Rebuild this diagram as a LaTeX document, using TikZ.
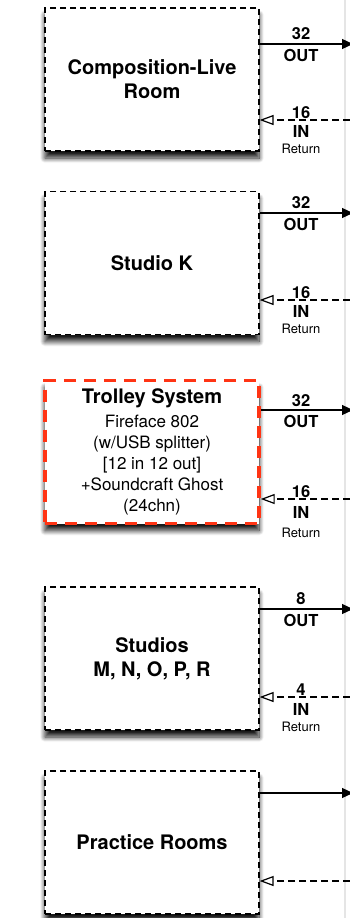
\documentclass[tikz,border=0pt]{standalone}
\usepackage{fontspec}
\setmainfont{TeX Gyre Heros}
\usetikzlibrary{arrows.meta,shadows.blur}
\definecolor{alertred}{RGB}{255,52,20}

\begin{document}
\begin{tikzpicture}[x=1pt,y=-1pt,room/.style={draw,line width=1.2pt,dash pattern=on 6pt off 4pt,fill=white,minimum width=214pt,minimum height=143pt,inner sep=0pt,align=center,font=\fontsize{20}{24}\selectfont\bfseries,blur shadow={shadow xshift=0pt,shadow yshift=-7pt,shadow blur radius=5pt,shadow blur steps=10,shadow opacity=90}},trolley/.style={room,draw=alertred,line width=3.4pt,dash pattern=on 12pt off 8pt,font=\fontsize{17}{21}\selectfont},feed/.style={line width=1.2pt,-{Triangle[length=11pt,width=10pt]}},back/.style={line width=1.2pt,dash pattern=on 7pt off 4pt,-{Triangle[open,length=14pt,width=10pt]}},count/.style={font=\fontsize{16.5}{18}\selectfont\bfseries},note/.style={font=\fontsize{13}{14}\selectfont}]
\useasboundingbox (0,0) rectangle (349,918);
\draw[black!10,line width=1.5pt] (345,0) -- (345,918);
\node[room] (live) at (152,79.5) {Composition-Live\\Room};
\node[room] (studk) at (152,263) {Studio K};
\node[trolley] (troll) at (152,452) {{\fontsize{20}{21}\selectfont\bfseries Trolley System}\\[3pt]Fireface 802\\(w/USB splitter)\\{[12 in 12 out]}\\+Soundcraft Ghost\\(24chn)};
\node[room] (studs) at (152,658.5) {Studios\\M, N, O, P, R};
\node[room] (pract) at (152,842.5) {Practice Rooms};
\coordinate (liveout) at (353,44);
\coordinate (livein) at (350,120);
\coordinate (studkout) at (353,213);
\coordinate (studkin) at (350,300);
\coordinate (trollout) at (353,410);
\coordinate (trollin) at (350,499);
\coordinate (studsout) at (353,609);
\coordinate (studsin) at (350,697);
\coordinate (practout) at (353,793);
\coordinate (practin) at (350,881);
\draw[feed] (liveout -| live.east) -- (liveout);
\draw[back] (livein) -- (livein -| live.east);
\draw[feed] (studkout -| studk.east) -- (studkout);
\draw[back] (studkin) -- (studkin -| studk.east);
\draw[feed] (trollout -| troll.east) -- (trollout);
\draw[back] (trollin) -- (trollin -| troll.east);
\draw[feed] (studsout -| studs.east) -- (studsout);
\draw[back] (studsin) -- (studsin -| studs.east);
\draw[feed] (practout -| pract.east) -- (practout);
\draw[back] (practin) -- (practin -| pract.east);
\node[count] (liveoutn) at (301,34) {32};
\node[count] (liveoutl) at (301,55) {OUT};
\node[count] (liveinn) at (301,113) {16};
\node[count] (liveinl) at (301,131) {IN};
\node[note] (liveret) at (301,149) {Return};
\node[count] (studkoutn) at (301,203) {32};
\node[count] (studkoutl) at (301,224) {OUT};
\node[count] (studkinn) at (301,293) {16};
\node[count] (studkinl) at (301,311) {IN};
\node[note] (studkret) at (301,329) {Return};
\node[count] (trolloutn) at (301,401) {32};
\node[count] (trolloutl) at (301,421) {OUT};
\node[count] (trollinn) at (301,492) {16};
\node[count] (trollinl) at (301,512) {IN};
\node[note] (trollret) at (301,533) {Return};
\node[count] (studsoutn) at (301,599) {8};
\node[count] (studsoutl) at (301,620) {OUT};
\node[count] (studsinn) at (301,690) {4};
\node[count] (studsinl) at (301,709) {IN};
\node[note] (studsret) at (301,727) {Return};
\end{tikzpicture}
\end{document}
